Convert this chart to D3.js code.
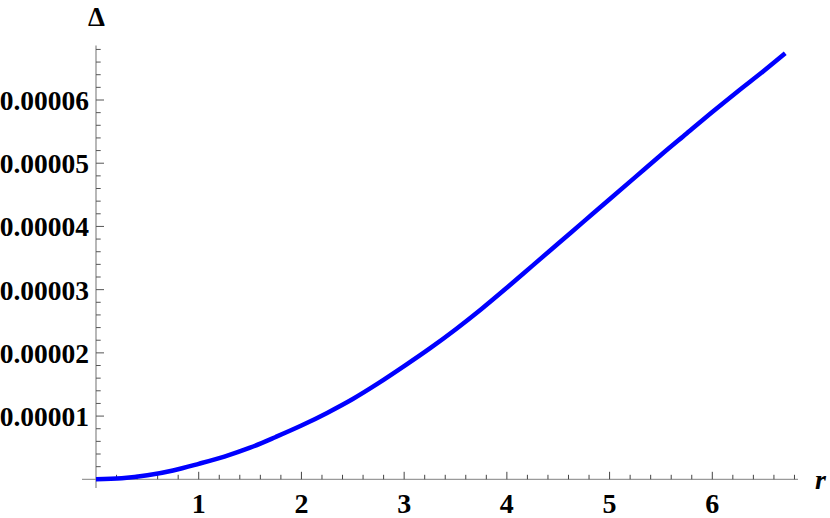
<!DOCTYPE html>
<html><head><meta charset="utf-8">
<script src="https://cdn.jsdelivr.net/npm/d3@7"></script>
<style>body{margin:0;background:#fff}svg{display:block}text{font-family:"Liberation Serif","Times New Roman",serif;font-weight:bold}</style>
</head><body>
<svg id="c" width="830" height="518"></svg>
<script>
const rValues = [0, 0.25, 0.5, 0.75, 1, 1.25, 1.5, 1.75, 2, 2.25, 2.5, 2.75, 3, 3.25, 3.5, 3.75, 4, 4.25, 4.5, 4.75, 5, 5.25, 5.5, 5.75, 6, 6.25, 6.5, 6.71];
const deltaValues = [0, 0.016e-5, 0.063e-5, 0.14e-5, 0.245e-5, 0.36e-5, 0.50e-5, 0.67e-5, 0.85e-5, 1.05e-5, 1.27e-5, 1.52e-5, 1.79e-5, 2.07e-5, 2.37e-5, 2.69e-5, 3.03e-5, 3.38e-5, 3.73e-5, 4.08e-5, 4.43e-5, 4.78e-5, 5.13e-5, 5.47e-5, 5.81e-5, 6.14e-5, 6.46e-5, 6.74e-5];
const xTickLabels = ["1", "2", "3", "4", "5", "6"];
const xTickValues = [1, 2, 3, 4, 5, 6];
const yTickLabels = ["0.00001", "0.00002", "0.00003", "0.00004", "0.00005", "0.00006"];
const yTickValues = [1e-5, 2e-5, 3e-5, 4e-5, 5e-5, 6e-5];
const xLabel = "r", yLabel = "Δ";

const svg = d3.select("#c");
const x = d3.scaleLinear().domain([0, 6]).range([96, 712.3]);
const y = d3.scaleLinear().domain([0, 6e-5]).range([479.3, 100]);
const x0 = x(0), y0 = y(0);

// axes lines
svg.append("line").attr("x1", 82).attr("x2", 798).attr("y1", y0).attr("y2", y0).attr("stroke", "#9a9a9a").attr("stroke-width", 1.2);
svg.append("line").attr("x1", x0).attr("x2", x0).attr("y1", 45.5).attr("y2", 488).attr("stroke", "#888").attr("stroke-width", 1.2);

// x ticks
const xMinor = d3.range(1, 35).map(i => i * 0.2);
svg.append("g").selectAll("line").data(xMinor).join("line")
  .attr("x1", d => x(d)).attr("x2", d => x(d))
  .attr("y1", y0).attr("y2", d => y0 - (Math.abs(d - Math.round(d)) < 1e-9 ? 7.5 : 4.5))
  .attr("stroke", "#444").attr("stroke-width", 1);
svg.append("g").selectAll("text").data(xTickValues).join("text")
  .attr("x", d => x(d)).attr("y", 513).attr("text-anchor", "middle").attr("font-size", 28)
  .text((d, i) => xTickLabels[i]);

// y ticks
const yMinor = d3.range(1, 35).map(i => i * 2e-6);
svg.append("g").selectAll("line").data(yMinor).join("line")
  .attr("y1", d => y(d)).attr("y2", d => y(d))
  .attr("x1", x0).attr("x2", d => x0 + (Math.round(d / 2e-6) % 5 === 0 ? 8 : 4.7))
  .attr("stroke", "#555").attr("stroke-width", 1);
svg.append("g").selectAll("text").data(yTickValues).join("text")
  .attr("x", 89).attr("y", d => y(d) + 10).attr("text-anchor", "end").attr("font-size", 27.5)
  .text((d, i) => yTickLabels[i]);

// axis labels
svg.append("text").attr("x", 96.5).attr("y", 26).attr("text-anchor", "middle").attr("font-size", 27).text(yLabel);
svg.append("text").attr("x", 815).attr("y", 489).attr("font-size", 28).attr("font-style", "italic").text(xLabel);

// curve
const data = rValues.map((r, i) => [r, deltaValues[i]]);
svg.append("path").datum(data)
  .attr("d", d3.line().x(d => x(d[0])).y(d => y(d[1])).curve(d3.curveMonotoneX))
  .attr("fill", "none").attr("stroke", "#0000ff").attr("stroke-width", 4.5);
</script>
</body></html>
